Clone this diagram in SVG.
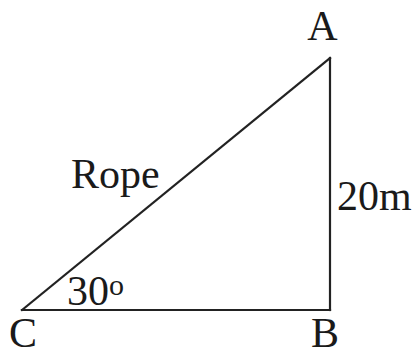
<svg xmlns="http://www.w3.org/2000/svg" width="414" height="356" viewBox="0 0 414 356">
<style>
.lbl{font-family:'Liberation Serif','DejaVu Serif',serif;font-size:42px;fill:#1a1a1a}
.side{stroke:#222;stroke-width:2.2;fill:none;stroke-linecap:square}
</style>
<rect width="414" height="356" fill="#fff"/>
<g id="connectors">
<line class="side" x1="22" y1="310" x2="330" y2="310"/>
<line class="side" x1="330" y1="310" x2="330" y2="58"/>
<line class="side" x1="22" y1="310" x2="330" y2="58"/>
</g>
<g id="node-A"><text class="lbl" x="322.5" y="40" text-anchor="middle">A</text></g>
<g id="node-B"><text class="lbl" x="325" y="347" text-anchor="middle" font-size="40">B</text></g>
<g id="node-C"><text class="lbl" x="23" y="347" text-anchor="middle" font-size="40">C</text></g>
<g id="label-rope"><text class="lbl" x="71" y="188">Rope</text></g>
<g id="label-height"><text class="lbl" x="337" y="210">20m</text></g>
<g id="label-angle"><text class="lbl" x="67" y="305">30</text><text class="lbl" x="109" y="295" style="font-size:30px">o</text></g>
</svg>
